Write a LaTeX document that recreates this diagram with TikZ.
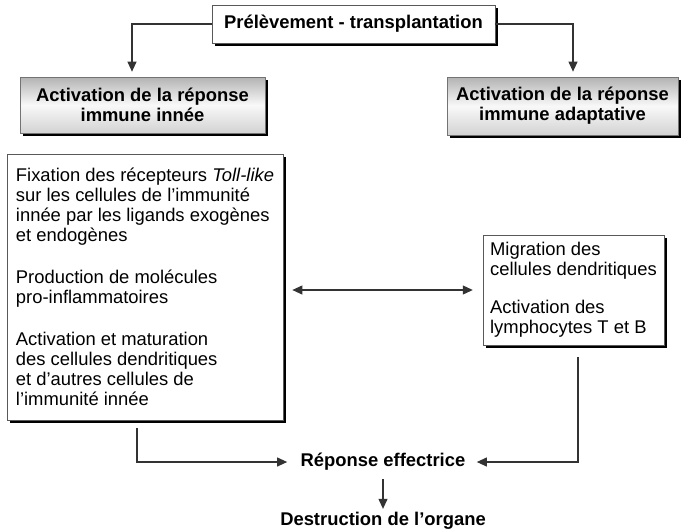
\documentclass[tikz,border=0pt]{standalone}
\usepackage{fontspec}
\setmainfont{Liberation Sans}
\usetikzlibrary{arrows.meta,shadows}
\newcommand{\bodysize}{\fontsize{18.4}{20}\selectfont}
\tikzset{
  boxshadow/.style={drop shadow={shadow xshift=3pt,shadow yshift=-3pt,fill=black,opacity=1}},
  whitebox/.style={draw=black!65,line width=0.7pt,fill=white,boxshadow,align=left,inner xsep=7pt},
  graybox/.style={draw=black!55,line width=0.7pt,top color=gray!60,bottom color=gray!35,middle color=gray!5,boxshadow,align=center,font=\bfseries\bodysize},
  link/.style={draw=black!80,line width=1.1pt,-{Triangle[length=10pt,width=9pt]}},
}
\begin{document}
\begin{tikzpicture}[x=1pt,y=-1pt]
\useasboundingbox (0,0) rectangle (683,531);
% titres
\node[whitebox,align=center,font=\bfseries\bodysize,minimum width=283pt,minimum height=38pt] (prelev) at (353.5,24) {Prélèvement - transplantation};
\node[graybox,minimum width=245pt,minimum height=56pt] (innee) at (142.5,105) {Activation de la réponse\\immune innée};
\node[graybox,minimum width=231pt,minimum height=58pt] (adapt) at (562.5,106) {Activation de la réponse\\immune adaptative};
% cadres
\node[whitebox,font=\bodysize,minimum width=276pt,minimum height=266pt] (innebox) at (145,287) {Fixation des récepteurs \textit{Toll-like}\\sur les cellules de l’immunité\\innée par les ligands exogènes\\et endogènes\\[22pt]Production de molécules\\pro-inflammatoires\\[22pt]Activation et maturation\\des cellules dendritiques\\et d’autres cellules de\\l’immunité innée};
\node[whitebox,font=\bodysize,minimum width=177pt,minimum height=110pt] (adaptbox) at (573.5,290) {Migration des\\cellules dendritiques\\[18pt]Activation des\\lymphocytes T et B};
\node[font=\bfseries\bodysize] (reponse) at (383,462) {Réponse effectrice};
\node[font=\bfseries\bodysize] (destr) at (383,521) {Destruction de l’organe};
% fleches
\draw[link,shorten >=5pt] (prelev.west) -| ([xshift=-10.5pt]innee.north);
\draw[link,shorten >=5pt] (prelev.east) -| ([xshift=10.5pt]adapt.north);
\draw[link,{Triangle[length=10pt,width=9pt]}-{Triangle[length=10pt,width=9pt]},shorten <=9pt,shorten >=10pt] (innebox.east |- adaptbox.west) -- (adaptbox.west);
\draw[link,shorten <=8pt,shorten >=10pt] ([xshift=-8pt]innebox.south) |- (reponse.west);
\draw[link,shorten <=12pt,shorten >=8pt] ([xshift=4.5pt]adaptbox.south) |- (reponse.east);
\draw[link,shorten <=5pt] (reponse.south) -- (destr.north);
\end{tikzpicture}
\end{document}
